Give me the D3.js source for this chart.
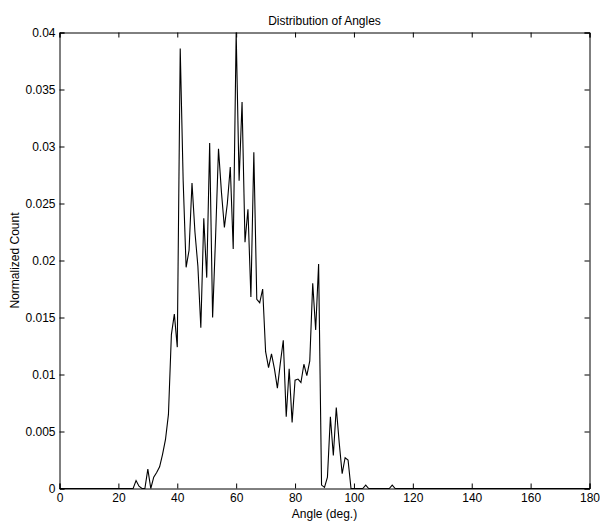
<!DOCTYPE html>
<html><head><meta charset="utf-8">
<script src="https://cdn.jsdelivr.net/npm/d3@7"></script>
<style>body{margin:0;background:#fff;} text{font-family:"Liberation Sans",Arial,sans-serif;fill:#000;}</style>
</head><body>
<svg id="c" width="600" height="527"></svg>
<script>
const title = "Distribution of Angles";
const xLabel = "Angle (deg.)";
const yLabel = "Normalized Count";
const xTicks = [0,20,40,60,80,100,120,140,160,180];
const yTicks = [0,0.005,0.01,0.015,0.02,0.025,0.03,0.035,0.04];
const yTickLabels = ["0","0.005","0.01","0.015","0.02","0.025","0.03","0.035","0.04"];
// angle bins (deg) and normalized counts (non-listed bins are 0)
const angles = [0,25,26,27,28,29,30,31,32,33,34,35,36,37,38,39,40,41,42,43,44,45,46,47,48,49,50,51,52,53,54,55,56,57,58,59,60,61,62,63,64,65,66,67,68,69,70,71,72,73,74,75,76,77,78,79,80,81,82,83,84,85,86,87,88,89,90,91,92,93,94,95,96,97,98,99,103,104,105,112,113,114,180];
const counts = [0,0,0.0007,0.0002,0,0,0.0017,0,0.001,0.0014,0.0019,0.003,0.0043,0.0065,0.0135,0.0153,0.0124,0.0386,0.027,0.0194,0.0209,0.0268,0.0225,0.0195,0.0141,0.0237,0.0185,0.0303,0.015,0.022,0.0298,0.026,0.0229,0.025,0.0282,0.021,0.04,0.027,0.0339,0.0216,0.0245,0.0168,0.0295,0.0166,0.0163,0.0175,0.012,0.0106,0.0118,0.0105,0.0088,0.011,0.013,0.0063,0.0105,0.0058,0.0095,0.0096,0.0093,0.0109,0.0099,0.0112,0.018,0.0139,0.0197,0.0003,0.0001,0.001,0.0063,0.0029,0.0071,0.004,0.0013,0.0027,0.0025,0,0,0.0003,0,0,0.0003,0,0];

const svg = d3.select("#c");
const L=59.5, R=589.5, T=32.5, B=488.5;
const x = d3.scaleLinear().domain([0,180]).range([L,R]);
const y = d3.scaleLinear().domain([0,0.04]).range([B,T]);
const tk = 5;

const gx = svg.append("g").attr("transform",`translate(0,${B})`)
  .call(d3.axisBottom(x).tickValues(xTicks).tickSize(-tk).tickPadding(5).tickFormat(d3.format("d")));
const gxt = svg.append("g").attr("transform",`translate(0,${T})`)
  .call(d3.axisTop(x).tickValues(xTicks).tickSize(-tk).tickFormat(""));
const gy = svg.append("g").attr("transform",`translate(${L},0)`)
  .call(d3.axisLeft(y).tickValues(yTicks).tickSize(-tk).tickPadding(4).tickFormat((d,i)=>yTickLabels[i]));
const gyr = svg.append("g").attr("transform",`translate(${R},0)`)
  .call(d3.axisRight(y).tickValues(yTicks).tickSize(-tk).tickFormat(""));
[gx,gxt,gy,gyr].forEach(g=>{
  g.select(".domain").attr("stroke","#000").attr("stroke-width",1);
  g.selectAll(".tick line").attr("stroke","#000");
  g.selectAll("text").attr("font-size",12).attr("font-family","Liberation Sans, Arial, sans-serif");
});

const line = d3.line().x((d,i)=>x(angles[i])).y((d,i)=>y(counts[i]));
svg.append("path").datum(counts).attr("d",line).attr("fill","none").attr("stroke","#000").attr("stroke-width",1.1).attr("stroke-linejoin","miter");

svg.append("text").attr("x",(L+R)/2).attr("y",25).attr("text-anchor","middle").attr("font-size",12).text(title);
svg.append("text").attr("x",(L+R)/2).attr("y",518).attr("text-anchor","middle").attr("font-size",12).text(xLabel);
svg.append("text").attr("transform",`translate(19,${(T+B)/2}) rotate(-90)`).attr("text-anchor","middle").attr("font-size",12).text(yLabel);
</script>
</body></html>
